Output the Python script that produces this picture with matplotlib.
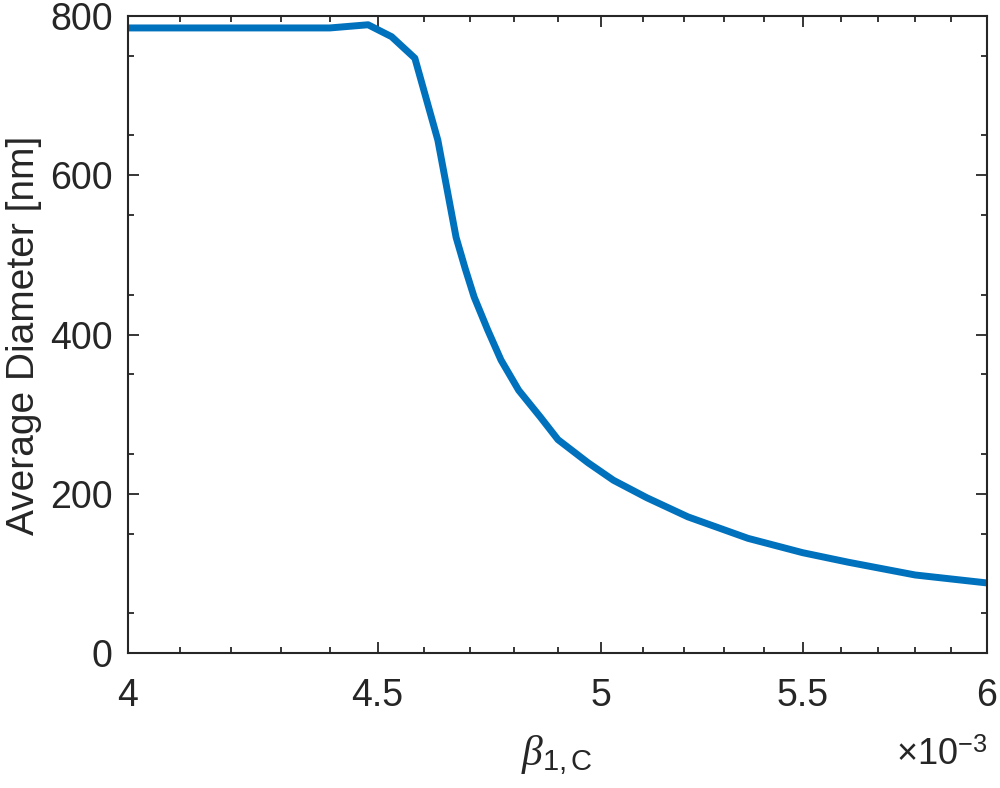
import numpy as np
import matplotlib.pyplot as plt
from matplotlib.ticker import FixedLocator, FixedFormatter, NullFormatter

plt.rcParams['font.family'] = ['Liberation Sans', 'DejaVu Sans']
plt.rcParams['mathtext.fontset'] = 'custom'
plt.rcParams['mathtext.rm'] = 'Liberation Sans'
plt.rcParams['mathtext.it'] = 'Liberation Serif:italic'

# beta_1,C in units of 1e-3, average diameter in nm
beta = [4.00, 4.40, 4.48, 4.53, 4.58, 4.63, 4.67, 4.69, 4.71, 4.74, 4.77, 4.81,
        4.86, 4.90, 4.97, 5.03, 5.11, 5.21, 5.36, 5.50, 5.62, 5.80, 6.00]
diameter = [785, 785, 789, 774, 747, 644, 522, 483, 447, 406, 368, 330,
            296, 268, 239, 217, 195, 171, 144, 126, 114, 98, 88]

x_ticks = [4, 4.5, 5, 5.5, 6]
x_tick_labels = ['4', '4.5', '5', '5.5', '6']
y_ticks = [0, 200, 400, 600, 800]

gray = '#262626'

fig = plt.figure(figsize=(10, 7.88), dpi=100)
ax = fig.add_axes([0.128, 0.1713, 0.859, 0.8084])

ax.plot(beta, diameter, color='#0072BD', lw=5, solid_capstyle='butt',
        solid_joinstyle='round')

ax.set_xscale('log')
ax.set_xlim(4, 6)
ax.set_ylim(0, 800)

ax.xaxis.set_major_locator(FixedLocator(x_ticks))
ax.xaxis.set_major_formatter(FixedFormatter(x_tick_labels))
minor_x = [round(4 + 0.1 * i, 1) for i in range(21) if i % 5 != 0]
ax.xaxis.set_minor_locator(FixedLocator(minor_x))
ax.xaxis.set_minor_formatter(NullFormatter())

ax.yaxis.set_major_locator(FixedLocator(y_ticks))
ax.yaxis.set_minor_locator(FixedLocator(np.arange(50, 800, 100)))

for s in ax.spines.values():
    s.set_linewidth(1.5)
    s.set_color(gray)

ax.tick_params(which='both', direction='in', top=True, right=True,
               color=gray, labelcolor=gray, width=1.3)
ax.tick_params(which='major', length=8, labelsize=27)
ax.tick_params(axis='x', which='major', pad=18)
ax.tick_params(axis='y', which='major', pad=11)
ax.tick_params(which='minor', length=4)

fig.text(0.024, 1 - 335 / 788, 'Average Diameter [nm]', rotation=90,
         ha='center', va='center', fontsize=28, color=gray)
fig.text(0.557, 1 - 755 / 788, r'$\beta_{\mathrm{1,C}}$',
         ha='center', va='center', fontsize=30, color=gray)
fig.text(0.987, 1 - 765 / 788, r'$\times\mathrm{10}^{\mathrm{-3}}$',
         ha='right', va='baseline', fontsize=26, color=gray)

fig.savefig('out.png', dpi=100)
